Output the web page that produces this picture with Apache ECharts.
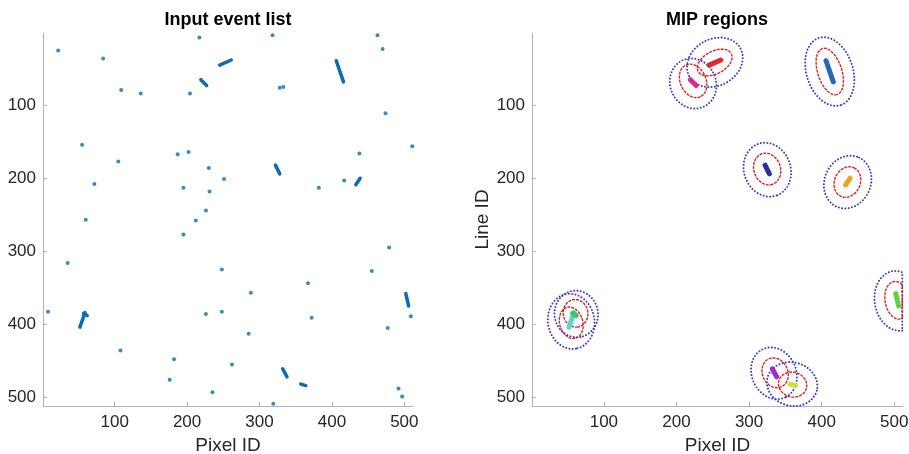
<!DOCTYPE html>
<html><head><meta charset="utf-8">
<script src="https://cdn.jsdelivr.net/npm/echarts@6/dist/echarts.min.js"></script>
<style>html,body{margin:0;padding:0;background:#fff}#c{width:909px;height:454px}</style>
</head><body><div id="c"></div>
<script>
// ---- data ----
const tickValues = [100, 200, 300, 400, 500];
const titles = ['Input event list', 'MIP regions'];

// isolated single events (pixel, line)
const dotX = [22, 84, 217, 318, 463, 470, 109, 136, 204, 328, 333, 474, 55, 105, 187, 202, 230, 251, 438, 511,
  72, 195, 231, 382, 417, 226, 212, 60, 195, 479, 35, 248, 455, 367, 288, 8, 226, 248, 372, 509, 477, 285, 108, 182, 262, 176, 235, 492, 497, 319];
const dotY = [25, 36, 7, 4, 4, 23, 79, 84, 84, 76, 75, 111, 154, 177, 167, 164, 186, 201, 166, 156,
  208, 213, 218, 213, 203, 244, 258, 257, 277, 295, 316, 325, 327, 344, 357, 383, 386, 383, 391, 389, 405, 413, 436, 448, 455, 476, 493, 488, 499, 509];

// track-like events (start / end)
const segX1 = [245, 219, 406, 322, 433, 502, 52, 57, 332, 357];
const segY1 = [45, 65, 39, 182, 209, 358, 404, 385, 461, 482];
const segX2 = [261, 227, 416, 328, 439, 506, 59, 62, 338, 364];
const segY2 = [38, 73, 68, 194, 200, 375, 384, 388, 472, 484];
const segColors = ['#e8262a', '#d8289c', '#2a66b8', '#2d2d9c', '#f0a21c', '#66d13c', '#5ad6c8', '#3cc46a', '#9a2fc0', '#c8e23c'];

// MIP region ellipses: centre, semi-axes, tilt (deg)
const innerCX = [252.6, 222.9, 411.1, 324.9, 435.4, 504, 55, 61, 335.9, 360];
const innerCY = [41.4, 66.6, 53.8, 187.4, 205.2, 367.2, 398, 385, 466.5, 482.7];
const innerA = [26, 24, 33.2, 22.2, 21.6, 26.2, 22, 19, 21, 19.7];
const innerB = [15.5, 17.7, 16.6, 18.3, 17.7, 16.7, 16, 17, 17.5, 17];
const innerAng = [-28, 65, 72, 70, -65, 80, 75, 80, 65, 15];

const outerCX = [252.9, 222.9, 411.1, 325.1, 435.8, 504.5, 55, 62, 334.3, 359.3];
const outerCY = [41.2, 70.2, 53.8, 188.3, 205.2, 368, 396, 386, 467.2, 482];
const outerA = [40.1, 35, 48.5, 37.6, 37.1, 41.3, 38, 32, 36.5, 35.1];
const outerB = [32, 31.5, 32, 32.1, 31.8, 31.5, 32, 30, 30.5, 29.8];
const outerAng = [-28, 65, 72, 70, -65, 80, 80, 80, 65, 15];

// ---- build ----
const AX_MIN = 1, AX_MAX = 512;
function ellipse(cx, cy, a, b, deg) {
  const t = deg * Math.PI / 180, pts = [];
  for (let i = 0; i <= 240; i++) {
    const s = 2 * Math.PI * i / 240;
    let x = cx + a * Math.cos(t) * Math.cos(s) - b * Math.sin(t) * Math.sin(s);
    let y = cy + a * Math.sin(t) * Math.cos(s) + b * Math.cos(t) * Math.sin(s);
    x = Math.min(AX_MAX - 1, Math.max(AX_MIN, x));
    y = Math.min(AX_MAX, Math.max(AX_MIN, y));
    pts.push([x, y]);
  }
  return pts;
}
const FONT = '"Liberation Sans", Arial, sans-serif';
const axisCol = '#b3b3b3', labCol = '#262626';
function xAx(i) {
  return {
    gridIndex: i, type: 'value', min: AX_MIN, max: AX_MAX,
    axisLine: { show: true, onZero: false, lineStyle: { color: axisCol, width: 1 } },
    axisTick: { show: true, inside: true, length: 4, customValues: tickValues, lineStyle: { color: axisCol } },
    axisLabel: { customValues: tickValues, fontSize: 17, color: labCol, fontFamily: FONT, margin: 8 },
    splitLine: { show: false },
    name: 'Pixel ID', nameLocation: 'middle', nameGap: 30,
    nameTextStyle: { fontSize: 19, color: labCol, fontFamily: FONT }
  };
}
function yAx(i, name) {
  return {
    gridIndex: i, type: 'value', min: AX_MIN, max: AX_MAX, inverse: true,
    axisLine: { show: true, onZero: false, lineStyle: { color: axisCol, width: 1 } },
    axisTick: { show: true, inside: true, length: 4, customValues: tickValues, lineStyle: { color: axisCol } },
    axisLabel: { customValues: tickValues, fontSize: 17, color: labCol, fontFamily: FONT, margin: 7 },
    splitLine: { show: false },
    name: name, nameLocation: 'middle', nameGap: 38, nameRotate: 90,
    nameTextStyle: { fontSize: 19, color: labCol, fontFamily: FONT }
  };
}

const series = [];
// left panel
series.push({
  type: 'scatter', xAxisIndex: 0, yAxisIndex: 0, symbol: 'circle', symbolSize: 4,
  itemStyle: { color: '#0a6cb4' }, data: dotX.map((x, i) => [x, dotY[i]]), silent: true
});
series.push({
  type: 'lines', coordinateSystem: 'cartesian2d', xAxisIndex: 0, yAxisIndex: 0, silent: true,
  lineStyle: { color: '#0a6cb4', width: 3.5, cap: 'round', opacity: 1 },
  data: segX1.map((x, i) => ({ coords: [[x, segY1[i]], [segX2[i], segY2[i]]] }))
});
// right panel ellipses
for (let i = 0; i < outerCX.length; i++) {
  series.push({
    type: 'line', xAxisIndex: 1, yAxisIndex: 1, showSymbol: false, silent: true, z: 2,
    lineStyle: { color: '#3a3ac8', width: 2, type: [0.01, 3.3], cap: 'round' },
    data: ellipse(outerCX[i], outerCY[i], outerA[i], outerB[i], outerAng[i])
  });
}
for (let i = 0; i < innerCX.length; i++) {
  series.push({
    type: 'line', xAxisIndex: 1, yAxisIndex: 1, showSymbol: false, silent: true, z: 3,
    lineStyle: { color: '#dc2626', width: 1.4, type: [3, 1] },
    data: ellipse(innerCX[i], innerCY[i], innerA[i], innerB[i], innerAng[i])
  });
}
series.push({
  type: 'lines', coordinateSystem: 'cartesian2d', xAxisIndex: 1, yAxisIndex: 1, silent: true, z: 4,
  lineStyle: { width: 5, cap: 'round', opacity: 1 },
  data: segX1.map((x, i) => ({ coords: [[x, segY1[i]], [segX2[i], segY2[i]]], lineStyle: { color: segColors[i] } }))
});

const chart = echarts.init(document.getElementById('c'), null, { renderer: 'canvas' });
chart.setOption({
  animation: false,
  backgroundColor: '#ffffff',
  title: [
    { text: titles[0], left: 228, top: 11, textAlign: 'center', padding: 0,
      textStyle: { fontSize: 18, fontWeight: 'bold', color: '#000', fontFamily: FONT } },
    { text: titles[1], left: 717, top: 11, textAlign: 'center', padding: 0,
      textStyle: { fontSize: 18, fontWeight: 'bold', color: '#000', fontFamily: FONT } }
  ],
  grid: [
    { left: 43, top: 33, width: 370, height: 373, containLabel: false, outerBoundsMode: 'none' },
    { left: 532, top: 33, width: 371, height: 373, containLabel: false, outerBoundsMode: 'none' }
  ],
  xAxis: [xAx(0), xAx(1)],
  yAxis: [yAx(0, ''), yAx(1, 'Line ID')],
  series: series
});
</script>
</body></html>
